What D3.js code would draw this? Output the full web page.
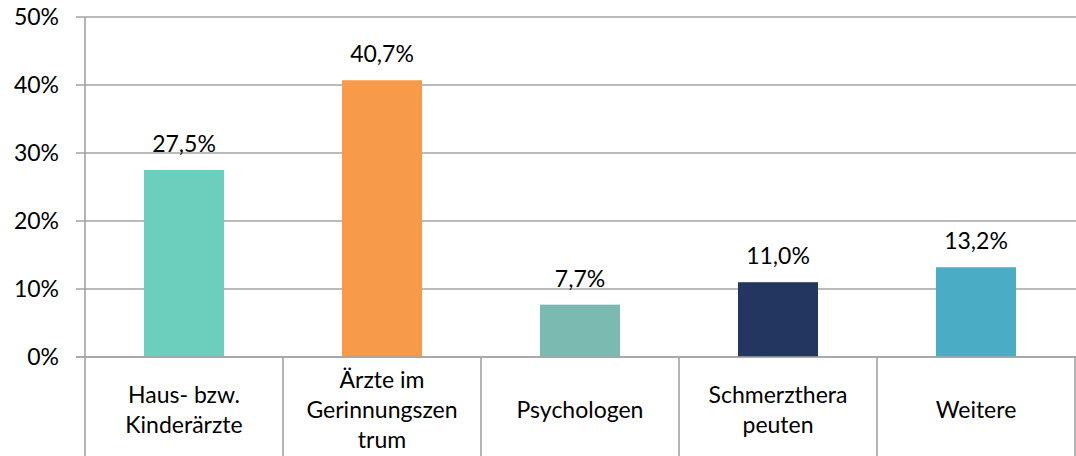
<!DOCTYPE html>
<html>
<head>
<meta charset="utf-8">
<script src="https://cdn.jsdelivr.net/npm/d3@7.9.0/dist/d3.min.js"></script>
<style>
  html, body { margin: 0; padding: 0; background: #fff; }
  svg text { font-family: Lato, 'Open Sans', sans-serif; fill: #000; }
</style>
</head>
<body>
<svg id="chart" width="1076" height="456"></svg>
<script>
const categories = ['Haus- bzw. Kinderärzte', 'Ärzte im Gerinnungszentrum', 'Psychologen', 'Schmerztherapeuten', 'Weitere'];
const categoryLines = [
  ['Haus- bzw.', 'Kinderärzte'],
  ['Ärzte im', 'Gerinnungszen', 'trum'],
  ['Psychologen'],
  ['Schmerzthera', 'peuten'],
  ['Weitere'],
];
const values = [27.5, 40.7, 7.7, 11.0, 13.2];
const barColors = ['#6CCFBD', '#F79A4A', '#7BBAB0', '#23365F', '#4BACC6'];
const yTicks = [0, 10, 20, 30, 40, 50];

const fmtValue = (v) => v.toFixed(1).replace('.', ',') + '%';

const svg = d3.select('#chart');
const plotLeft = 85, plotRight = 1075, plotTop = 17, plotBottom = 357;
const fontSize = 23;

const x = d3.scaleBand().domain(categories).range([plotLeft, plotRight]).paddingInner(0).paddingOuter(0);
const y = d3.scaleLinear().domain([0, 50]).range([plotBottom, plotTop]);
const barW = x.bandwidth() * 0.404;

const gridColor = '#A3A3A3';

// gridlines
svg.append('g')
  .selectAll('line')
  .data(yTicks)
  .join('line')
  .attr('x1', plotLeft - 9)
  .attr('x2', plotRight + 1)
  .attr('y1', (d) => y(d))
  .attr('y2', (d) => y(d))
  .attr('stroke', gridColor)
  .attr('stroke-width', 1.6);

// y tick labels
svg.append('g')
  .selectAll('text')
  .data(yTicks)
  .join('text')
  .attr('x', 59)
  .attr('y', (d) => y(d))
  .attr('dy', '0.35em')
  .attr('text-anchor', 'end')
  .attr('font-size', fontSize)
  .text((d) => d + '%');

// y axis line
svg.append('line')
  .attr('x1', plotLeft).attr('x2', plotLeft)
  .attr('y1', plotTop).attr('y2', 456)
  .attr('stroke', gridColor)
  .attr('stroke-width', 1.6);

// category separators below the axis
svg.append('g')
  .selectAll('line')
  .data(categories)
  .join('line')
  .attr('x1', (d) => x(d) + x.bandwidth())
  .attr('x2', (d) => x(d) + x.bandwidth())
  .attr('y1', plotBottom)
  .attr('y2', 456)
  .attr('stroke', gridColor)
  .attr('stroke-width', 1.6);

// bars
svg.append('g')
  .selectAll('rect')
  .data(values)
  .join('rect')
  .attr('x', (d, i) => x(categories[i]) + (x.bandwidth() - barW) / 2)
  .attr('width', barW)
  .attr('y', (d) => y(d))
  .attr('height', (d) => y(0) - y(d))
  .attr('fill', (d, i) => barColors[i]);

// redraw zero line on top of bars
svg.append('line')
  .attr('x1', plotLeft - 9).attr('x2', plotRight + 1)
  .attr('y1', y(0)).attr('y2', y(0))
  .attr('stroke', gridColor)
  .attr('stroke-width', 1.6);

// value labels
svg.append('g')
  .selectAll('text')
  .data(values)
  .join('text')
  .attr('x', (d, i) => x(categories[i]) + x.bandwidth() / 2)
  .attr('y', (d) => y(d) - 18)
  .attr('text-anchor', 'middle')
  .attr('font-size', fontSize)
  .text(fmtValue);

// category labels
const lineH = 30;
svg.append('g')
  .selectAll('text')
  .data(categoryLines)
  .join('text')
  .attr('x', (d, i) => x(categories[i]) + x.bandwidth() / 2)
  .attr('text-anchor', 'middle')
  .attr('font-size', fontSize)
  .each(function (lines) {
    const t = d3.select(this);
    const y0 = 410 - ((lines.length - 1) * lineH) / 2;
    lines.forEach((s, k) => {
      t.append('tspan')
        .attr('x', t.attr('x'))
        .attr('y', y0 + k * lineH)
        .attr('dy', '0.35em')
        .text(s);
    });
  });
</script>
</body>
</html>
